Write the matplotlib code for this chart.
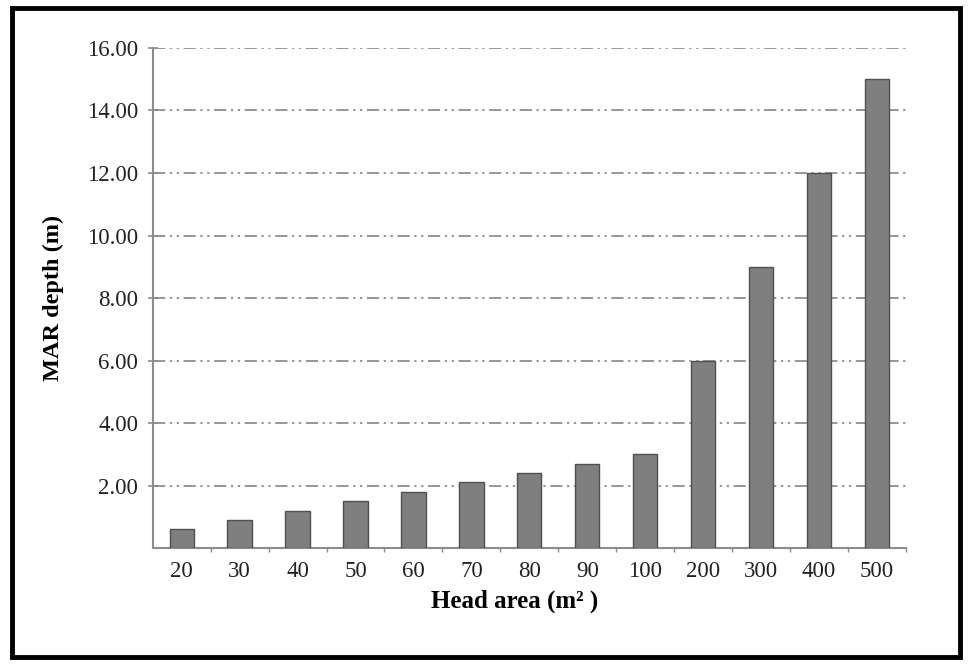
import numpy as np, matplotlib
matplotlib.use('Agg')
import matplotlib.pyplot as plt
from matplotlib.patches import Rectangle
from matplotlib.ticker import FixedLocator, FormatStrFormatter

plt.rcParams['font.family'] = ['Liberation Serif', 'DejaVu Serif']

# data
head_area = ['20', '30', '40', '50', '60', '70', '80', '90', '100', '200', '300', '400', '500']
mar_depth = [0.6, 0.9, 1.2, 1.5, 1.8, 2.1, 2.4, 2.7, 3.0, 6.0, 9.0, 12.0, 15.0]
y_ticks = [2, 4, 6, 8, 10, 12, 14, 16]

AX_GRAY = '#8c8c8c'
BAR = '#7f7f7f'; BAR_EDGE = '#505050'

fig = plt.figure(figsize=(9.73, 6.66), dpi=100)
ax = fig.add_axes([0.157, 0.177, 0.774, 0.751])

x = np.arange(len(head_area))
ax.bar(x, mar_depth, width=0.42, color=BAR, edgecolor=BAR_EDGE, lw=1.0, zorder=3)

ax.set_xlim(-0.5, len(head_area) - 0.5)
ax.set_ylim(0, 16)
ax.set_yticks(y_ticks)
ax.yaxis.set_major_formatter(FormatStrFormatter('%.2f'))
ax.set_xticks(x)
ax.set_xticklabels(head_area)
ax.xaxis.set_minor_locator(FixedLocator(np.arange(0.5, len(head_area), 1.0)))

ax.grid(axis='y', color='#7a7a7a', lw=1.1, ls=(0, (8, 3, 1.5, 3, 1.5, 3)), zorder=1)
ax.set_axisbelow(True)

for s in ['top', 'right']:
    ax.spines[s].set_visible(False)
for s in ['left', 'bottom']:
    ax.spines[s].set_color(AX_GRAY)
    ax.spines[s].set_linewidth(1.5)

ax.tick_params(axis='y', direction='inout', length=7, width=1.2, color=AX_GRAY,
               labelsize=16.5, labelcolor='#222222', pad=7)
ax.tick_params(axis='x', which='major', length=0, labelsize=16.5,
               labelcolor='#222222', pad=9)
ax.tick_params(axis='x', which='minor', direction='out', length=3, width=1, color=AX_GRAY)

ax.set_ylabel('MAR depth (m)', fontsize=17.5, fontweight='bold')
ax.yaxis.set_label_coords(-0.118, 0.5)
ax.set_xlabel('Head area (m\u00b2 )', fontsize=18, fontweight='bold')
ax.xaxis.set_label_coords(0.48, -0.082)

# black frame around the whole picture
fig.patches.append(Rectangle((0.012, 0.013), 0.975, 0.975, transform=fig.transFigure,
                             fill=False, edgecolor='black', lw=3.5))

fig.savefig('out.png', dpi=100)
